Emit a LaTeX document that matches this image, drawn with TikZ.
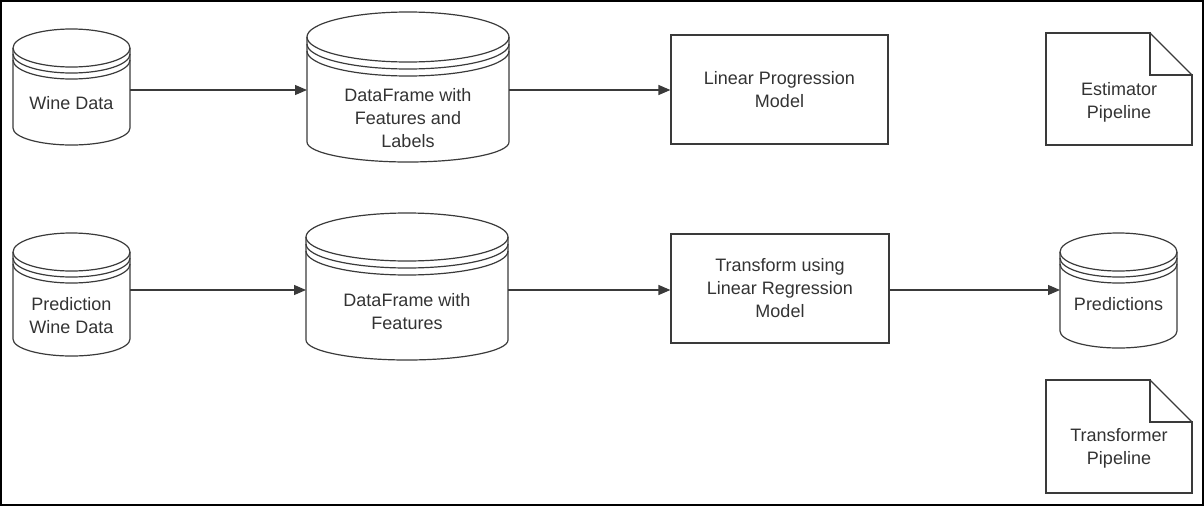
\documentclass[tikz,border=0pt]{standalone}
\usepackage{fontspec}
\setmainfont{Liberation Sans}
\usetikzlibrary{arrows.meta}
\definecolor{ink}{HTML}{3A3A3A}
\definecolor{txt}{HTML}{333333}
% #1 name, #2 left, #3 right, #4 top, #5 bottom, #6 top ry, #7 bottom ry, #8 stripe gap
\newcommand\dbcyl[8]{%
  \pgfmathsetmacro\cyA{(#3-#2)/2}%
  \pgfmathsetmacro\cyX{(#2+#3)/2}%
  \pgfmathsetmacro\cyM{(#4+#5)/2}%
  \pgfmathsetmacro\cyT{#4+#6}%
  \pgfmathsetmacro\cyB{#5-#7}%
  \node[shapebox, minimum width={(#3-#2)*1pt}, minimum height={(#5-#4)*1pt}] (#1) at (\cyX,\cyM) {};
  \draw[shapeline] (#2,\cyT) -- (#2,\cyB) arc[start angle=180,end angle=360,x radius=\cyA pt,y radius=#7 pt] -- (#3,\cyT);
  \draw[shapeline] (\cyX,\cyT) ellipse[x radius=\cyA pt,y radius=#6 pt];
  \draw[shapeline] (#2,\cyT+#8) arc[start angle=180,end angle=360,x radius=\cyA pt,y radius=#6 pt];
  \draw[shapeline] (#2,\cyT+2*#8) arc[start angle=180,end angle=360,x radius=\cyA pt,y radius=#6 pt];
}
% #1 name, #2 left, #3 right, #4 top, #5 bottom, #6 fold
\newcommand\docshape[6]{%
  \pgfmathsetmacro\dcX{(#2+#3)/2}%
  \pgfmathsetmacro\dcM{(#4+#5)/2}%
  \pgfmathsetmacro\dcF{#3-#6}%
  \pgfmathsetmacro\dcG{#4+#6}%
  \node[shapebox, minimum width={(#3-#2)*1pt}, minimum height={(#5-#4)*1pt}] (#1) at (\dcX,\dcM) {};
  \draw[shapeline, line cap=rect] (\dcF,#4) -- (#2,#4) -- (#2,#5) -- (#3,#5) -- (#3,\dcG);
  \draw[shapeline] (\dcF,#4) -- (#3,\dcG);
  \draw[shapeline] (\dcF,#4) -- (\dcF,\dcG) -- (#3,\dcG);
}
\begin{document}
\begin{tikzpicture}[x=1pt,y=-1pt,
  shapebox/.style={inner sep=0pt, outer sep=0pt, draw=none},
  shapeline/.style={draw=ink, line width=1.2pt},
  lbl/.style={text=txt, align=center, inner sep=0pt, font=\fontsize{18}{23}\selectfont},
  procbox/.style={draw=ink, line width=1.2pt, text=txt, align=center, inner sep=0pt,
    font=\fontsize{18}{23}\selectfont},
  arr/.style={draw=ink, line width=1.2pt, -{Triangle[length=12pt,width=10pt]}}]
\useasboundingbox (0,0) rectangle (1204,506);
\draw[black, line width=1.5pt] (1,1) rectangle (1203,505);

% row 1
\dbcyl{c1}{13}{130}{29}{145}{19}{17}{6}
\node[lbl] (c1t) at (71.5,103) {Wine Data};
\dbcyl{c2}{307}{509}{12}{162}{25}{20}{7}
\node[lbl] (c2t) at (408,118) {DataFrame with\\Features and\\Labels};
\node[procbox, minimum width=217pt, minimum height=109pt] (m1) at (779.5,89.5) {Linear Progression\\Model};
\docshape{d1}{1046}{1192}{33}{145}{42}
\node[lbl] (d1t) at (1119,102) {Estimator\\Pipeline};

% row 2
\dbcyl{c3}{13}{130}{233}{356}{19}{17}{6}
\node[lbl] (c3t) at (71.5,316) {Prediction\\Wine Data};
\dbcyl{c4}{306}{508}{213}{360}{24}{20}{7}
\node[lbl] (c4t) at (407,312) {DataFrame with\\Features};
\node[procbox, minimum width=218pt, minimum height=109pt] (m2) at (780,288.5) {Transform using\\Linear Regression\\Model};
\dbcyl{c5}{1060}{1177}{233}{348}{19}{17}{6}
\node[lbl] (c5t) at (1118.5,304) {Predictions};
\docshape{d2}{1046}{1192}{380}{493}{42}
\node[lbl] (d2t) at (1119,448) {Transformer\\Pipeline};

% connectors
\coordinate (r1) at (0,90);
\coordinate (r2) at (0,290);
\draw[arr] (c1.east |- r1) -- (c2.west |- r1);
\draw[arr] (c2.east |- r1) -- (m1.west |- r1);
\draw[arr] (c3.east |- r2) -- (c4.west |- r2);
\draw[arr] (c4.east |- r2) -- (m2.west |- r2);
\draw[arr] (m2.east |- r2) -- (c5.west |- r2);
\end{tikzpicture}
\end{document}
